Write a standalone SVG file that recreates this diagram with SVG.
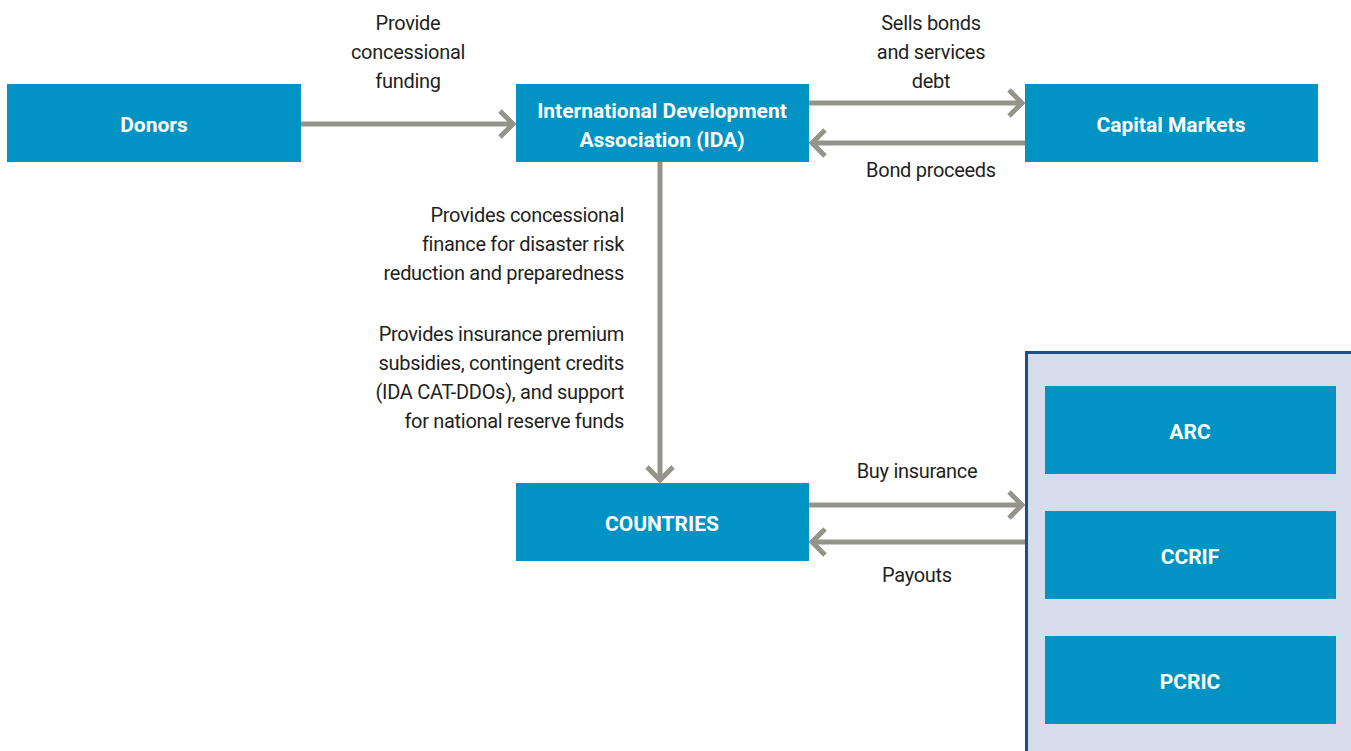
<svg xmlns="http://www.w3.org/2000/svg" width="1351" height="751" viewBox="0 0 1351 751">
<defs>
<style>
.box{fill:#0093C4}
.bt{font-family:Roboto,"Liberation Sans",sans-serif;font-weight:bold;font-size:21px;fill:#fff;text-anchor:middle}
.lb{font-family:Roboto,"Liberation Sans",sans-serif;font-size:20px;fill:#231f20;letter-spacing:-0.3px}
.c{text-anchor:middle}
.r{text-anchor:end}
.ln{stroke:#94948A;stroke-width:5;fill:none}
</style>
<marker id="ah" viewBox="0 0 20 30" refX="18" refY="15" markerWidth="20" markerHeight="30" markerUnits="userSpaceOnUse" orient="auto">
<path d="M4,2 L17,15 L4,28" fill="none" stroke="#94948A" stroke-width="5"/>
</marker>
</defs>
<rect width="1351" height="751" fill="#fff"/>
<g id="connectors">
<line class="ln" x1="301" y1="124" x2="514" y2="124" marker-end="url(#ah)"/>
<line class="ln" x1="809" y1="103" x2="1023" y2="103" marker-end="url(#ah)"/>
<line class="ln" x1="1025" y1="143" x2="811" y2="143" marker-end="url(#ah)"/>
<line class="ln" x1="660" y1="162" x2="660" y2="481" marker-end="url(#ah)"/>
<line class="ln" x1="809" y1="505" x2="1023" y2="505" marker-end="url(#ah)"/>
<line class="ln" x1="1025" y1="542" x2="811" y2="542" marker-end="url(#ah)"/>
</g>
<g id="labels">
<text class="lb c" x="408" y="30">Provide</text>
<text class="lb c" x="408" y="59">concessional</text>
<text class="lb c" x="408" y="88">funding</text>
<text class="lb c" x="931" y="30">Sells bonds</text>
<text class="lb c" x="931" y="59">and services</text>
<text class="lb c" x="931" y="88">debt</text>
<text class="lb c" x="931" y="177">Bond proceeds</text>
<text class="lb r" x="624" y="222">Provides concessional</text>
<text class="lb r" x="624" y="251">finance for disaster risk</text>
<text class="lb r" x="624" y="280">reduction and preparedness</text>
<text class="lb r" x="624" y="341">Provides insurance premium</text>
<text class="lb r" x="624" y="370">subsidies, contingent credits</text>
<text class="lb r" x="624" y="399">(IDA CAT-DDOs), and support</text>
<text class="lb r" x="624" y="428">for national reserve funds</text>
<text class="lb c" x="917" y="478">Buy insurance</text>
<text class="lb c" x="917" y="582">Payouts</text>
</g>
<g id="donors"><rect class="box" x="7" y="84" width="294" height="78"/><text class="bt" x="154" y="132">Donors</text></g>
<g id="ida"><rect class="box" x="516" y="84" width="293" height="78"/><text class="bt" x="662" y="118">International Development</text><text class="bt" x="662" y="147">Association (IDA)</text></g>
<g id="capital-markets"><rect class="box" x="1025" y="84" width="293" height="78"/><text class="bt" x="1171" y="132">Capital Markets</text></g>
<g id="countries"><rect class="box" x="516" y="483" width="293" height="78"/><text class="bt" x="662" y="531">COUNTRIES</text></g>
<g id="insurers">
<rect x="1026.5" y="352.5" width="330" height="405" fill="#D5DCEA" stroke="#1F4E85" stroke-width="3"/>
<g id="arc"><rect class="box" x="1045" y="386" width="291" height="88"/><text class="bt" x="1190" y="439">ARC</text></g>
<g id="ccrif"><rect class="box" x="1045" y="511" width="291" height="88"/><text class="bt" x="1190" y="564">CCRIF</text></g>
<g id="pcric"><rect class="box" x="1045" y="636" width="291" height="88"/><text class="bt" x="1190" y="689">PCRIC</text></g>
</g>
</svg>
